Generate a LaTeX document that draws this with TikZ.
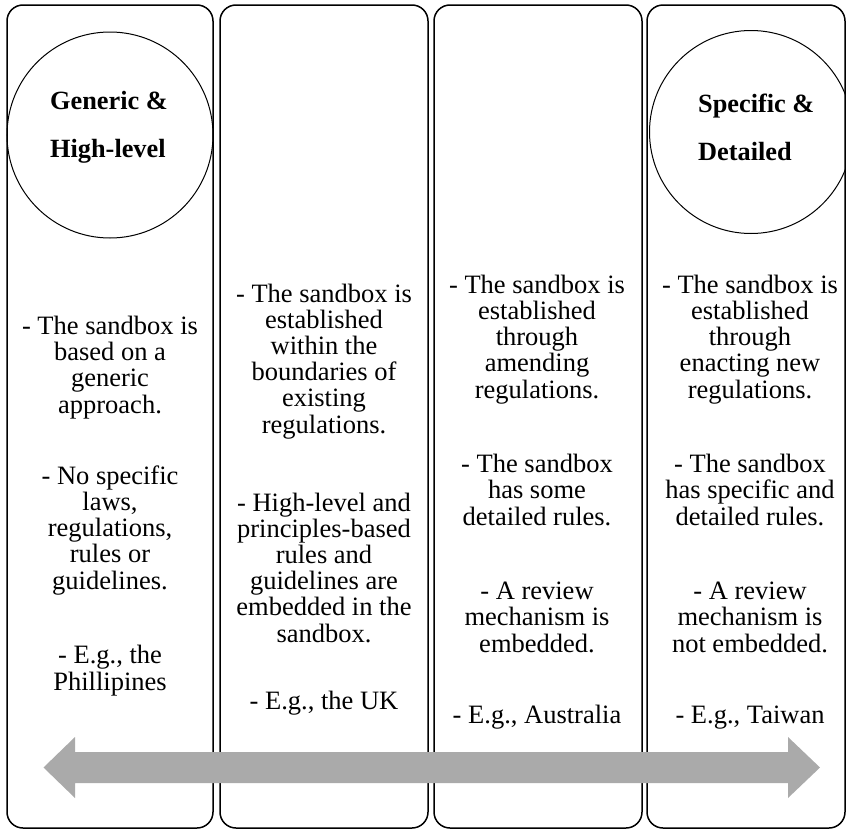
\documentclass[tikz,border=0pt]{standalone}
\usepackage{fontspec}
\setmainfont{Liberation Serif}
\usepackage{xcolor}
\definecolor{arrowgray}{RGB}{170,170,170}

\begin{document}
\begin{tikzpicture}[x=1pt,y=-1pt,
	colbox/.style={draw, line width=1.5pt, rounded corners=16pt},
	ring/.style={draw, circle, line width=1pt, minimum size=#1, inner sep=0pt},
	heading/.style={anchor=base west, align=left, inner sep=0pt,
		font=\bfseries\fontsize{26.3pt}{47.5pt}\selectfont},
	point/.style={anchor=base, align=center, inner sep=0pt,
		font=\fontsize{26.5pt}{26.1pt}\selectfont}]
		\useasboundingbox (0,0) rectangle (846,830);

		% Columns
		\draw[colbox] (7,5) rectangle (213,828);
		\draw[colbox] (220,5) rectangle (428,828);
		\draw[colbox] (434,5) rectangle (642,828);
		\draw[colbox] (647,5) rectangle (845,828);

		% Circles at both ends (base = last line)
		\node[ring=206pt] (ringA) at (110,135) {};
		\node[ring=203pt] (ringB) at (751,132) {};
		\node[heading] (headA) at (50,157) {Generic \&\\High-level};
		\node[heading] (headB) at (698,160) {Specific \&\\Detailed};

		% First column
		\node[point] (a1) at (110,413) {- The sandbox is\\based on a\\generic\\approach.};
		\node[point] (a2) at (110,589) {- No specific\\laws,\\regulations,\\rules or\\guidelines.};
		\node[point] (a3) at (110,690) {- E.g., the\\Phillipines};

		% Second column
		\node[point] (b1) at (324,433) {- The sandbox is\\established\\within the\\boundaries of\\existing\\regulations.};
		\node[point] (b2) at (324,642) {- High-level and\\principles-based\\rules and\\guidelines are\\embedded in the\\sandbox.};
		\node[point] (b3) at (324,709) {- E.g., the UK};

		% Third column
		\node[point] (c1) at (537,398) {- The sandbox is\\established\\through\\amending\\regulations.};
		\node[point] (c2) at (537,525) {- The sandbox\\has some\\detailed rules.};
		\node[point] (c3) at (537,652) {- A review\\mechanism is\\embedded.};
		\node[point] (c4) at (537,723) {- E.g., Australia};

		% Fourth column
		\node[point] (d1) at (750,398) {- The sandbox is\\established\\through\\enacting new\\regulations.};
		\node[point] (d2) at (750,525) {- The sandbox\\has specific and\\detailed rules.};
		\node[point] (d3) at (750,652) {- A review\\mechanism is\\not embedded.};
		\node[point] (d4) at (750,723) {- E.g., Taiwan};

		% Scale arrow
		\fill[arrowgray] (43.5,767.5) -- (75,737) -- (75,752) -- (788,752) -- (788,737)
			-- (820,767.5) -- (788,798) -- (788,783) -- (75,783) -- (75,798) -- cycle;
	\end{tikzpicture}
\end{document}
